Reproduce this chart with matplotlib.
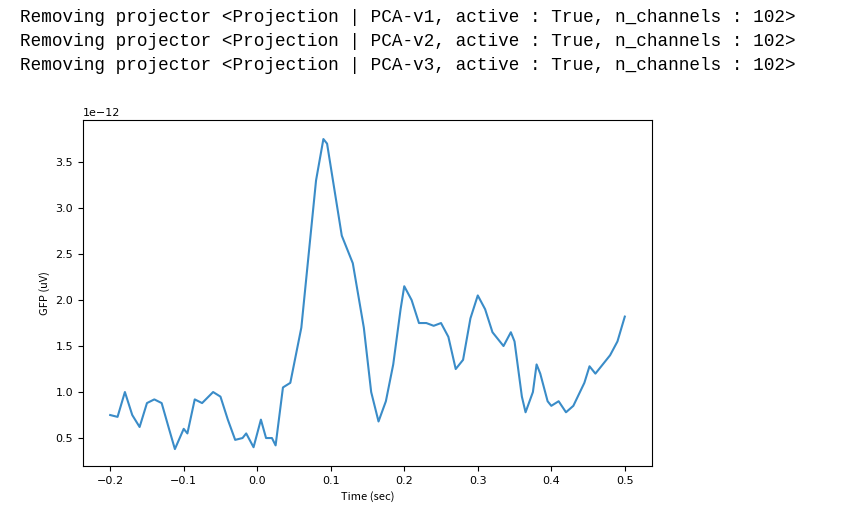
import matplotlib.pyplot as plt

# log lines printed above the figure
log_lines = [
    "Removing projector <Projection | PCA-v1, active : True, n_channels : 102>",
    "Removing projector <Projection | PCA-v2, active : True, n_channels : 102>",
    "Removing projector <Projection | PCA-v3, active : True, n_channels : 102>",
]

# GFP curve (time in sec, value in 1e-12)
times = [-0.2, -0.19, -0.18, -0.17, -0.16, -0.15, -0.14, -0.13, -0.12, -0.112,
         -0.1, -0.095, -0.085, -0.075, -0.06, -0.05, -0.04, -0.03, -0.02, -0.015,
         -0.005, 0.005, 0.012, 0.02, 0.025, 0.035, 0.045, 0.06, 0.07, 0.08,
         0.09, 0.095, 0.105, 0.115, 0.13, 0.145, 0.155, 0.165, 0.175, 0.185,
         0.195, 0.2, 0.21, 0.22, 0.23, 0.24, 0.25, 0.26, 0.27, 0.28,
         0.29, 0.3, 0.31, 0.32, 0.335, 0.345, 0.35, 0.36, 0.365, 0.375,
         0.38, 0.385, 0.395, 0.4, 0.41, 0.42, 0.43, 0.445, 0.452, 0.46,
         0.47, 0.48, 0.49, 0.5]
gfp = [0.75, 0.73, 1.0, 0.75, 0.62, 0.88, 0.92, 0.88, 0.6, 0.38,
       0.6, 0.55, 0.92, 0.88, 1.0, 0.95, 0.7, 0.48, 0.5, 0.55,
       0.4, 0.7, 0.5, 0.5, 0.42, 1.05, 1.1, 1.7, 2.5, 3.3,
       3.75, 3.7, 3.2, 2.7, 2.4, 1.7, 1.0, 0.68, 0.9, 1.3,
       1.9, 2.15, 2.0, 1.75, 1.75, 1.72, 1.75, 1.6, 1.25, 1.35,
       1.8, 2.05, 1.9, 1.65, 1.5, 1.65, 1.55, 0.95, 0.78, 1.0,
       1.3, 1.2, 0.9, 0.85, 0.9, 0.78, 0.85, 1.1, 1.28, 1.2,
       1.3, 1.4, 1.55, 1.82]

fig = plt.figure(figsize=(8.51, 5.29), dpi=100)
for i, line in enumerate(log_lines):
    fig.text(20 / 851, 1 - (17 + 24 * i) / 529, line, family="Liberation Mono",
             fontsize=12.7, va="center", ha="left")

ax = fig.add_axes([83 / 851, 1 - 466 / 529, (652 - 83) / 851, (466 - 120) / 529])
ax.plot(times, [v * 1e-12 for v in gfp], color="#3a8cc8", lw=1.5)
ax.set_xlim(-0.237, 0.537)
ax.set_ylim(0.196e-12, 3.957e-12)
ax.set_xticks([-0.2, -0.1, 0.0, 0.1, 0.2, 0.3, 0.4, 0.5])
ax.set_yticks([0.5e-12, 1e-12, 1.5e-12, 2e-12, 2.5e-12, 3e-12, 3.5e-12])
ax.tick_params(labelsize=8)
ax.yaxis.get_offset_text().set_fontsize(8)
ax.set_xlabel("Time (sec)", fontsize=8, family=["Noto Sans CJK SC", "DejaVu Sans"])
ax.set_ylabel("GFP (uV)", fontsize=8, family=["Noto Sans CJK SC", "DejaVu Sans"])

fig.savefig("out.png", dpi=100)
